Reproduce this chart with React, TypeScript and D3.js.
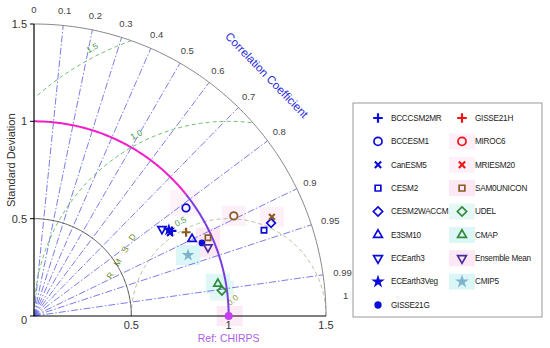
import React from 'react';
import * as d3 from 'd3';

// models, in legend order (first 9 = left column)
const models = [
  'BCCCSM2MR', 'BCCESM1', 'CanESM5', 'CESM2', 'CESM2WACCM', 'E3SM10', 'ECEarth3', 'ECEarth3Veg', 'GISSE21G',
  'GISSE21H', 'MIROC6', 'MRIESM20', 'SAM0UNICON', 'UDEL', 'CMAP', 'Ensemble Mean', 'CMIP5',
];
const stdDev = [0.833, 0.958, 0.818, 1.261, 1.308, 0.903, 0.795, 0.822, 0.941, 0.892, 1.148, 1.324, 0.98, 0.974, 0.959, 0.961, 0.851];
const corr = [0.851, 0.815, 0.854, 0.937, 0.931, 0.899, 0.827, 0.843, 0.917, 0.876, 0.894, 0.923, 0.912, 0.991, 0.985, 0.93, 0.93];

const refName = 'Ref: CHIRPS';
const refStd = 1;

const stdTicks = [0, 0.5, 1, 1.5];
const corrTicks = [0, 0.1, 0.2, 0.3, 0.4, 0.5, 0.6, 0.7, 0.8, 0.9, 0.95, 0.99, 1];
const rmsdLevels = [0.5, 1.0, 1.5];

const blue = '#0c0cd8';
const brown = '#8b5a22';
const red = '#ee1515';
const green = '#2f8a3a';

const styles: Record<string, any> = {
  BCCCSM2MR: { sym: 'plus', color: blue },
  BCCESM1: { sym: 'circle', color: blue },
  CanESM5: { sym: 'times', color: blue },
  CESM2: { sym: 'square', color: blue },
  CESM2WACCM: { sym: 'diamond', color: blue },
  E3SM10: { sym: 'tri', color: blue },
  ECEarth3: { sym: 'triDown', color: blue },
  ECEarth3Veg: { sym: 'star', color: blue },
  GISSE21G: { sym: 'dot', color: blue },
  GISSE21H: { sym: 'plus', color: brown, legend: red },
  MIROC6: { sym: 'circle', color: brown, legend: red, bg: '#fef0f9' },
  MRIESM20: { sym: 'times', color: brown, legend: red, bg: '#fef0f9' },
  SAM0UNICON: { sym: 'square', color: brown, bg: '#fce8f5' },
  UDEL: { sym: 'diamond', color: green, bg: '#e6f8f6' },
  CMAP: { sym: 'tri', color: green, bg: '#dcf7f5' },
  'Ensemble Mean': { sym: 'triDown', color: '#4a2e98', bg: '#fce8f5' },
  CMIP5: { sym: 'star', color: '#7db4cc', bg: '#daf6f6' },
};

const x = d3.scaleLinear().domain([0, 1.5]).range([34, 326]);
const y = d3.scaleLinear().domain([0, 1.5]).range([316, 24]);

const line = d3.line<[number, number]>().x(d => x(d[0])).y(d => y(d[1]));

function arcPts(cx: number, r: number, a0: number, a1: number, n = 120) {
  return d3.range(n + 1).map(i => {
    const a = a0 + (a1 - a0) * i / n;
    return [cx + r * Math.cos(a), r * Math.sin(a)] as [number, number];
  });
}

function Marker({ sym, color, size = 1 }: any) {
  const sw = 1.7;
  const s = (t: any, a: number) => d3.symbol(t, a * size)()!;
  if (sym === 'plus') return <path d={s(d3.symbolPlus, 28)} stroke={color} strokeWidth={2.2} fill="none" />;
  if (sym === 'times') return <path d={s(d3.symbolTimes, 24)} stroke={color} strokeWidth={2.1} fill="none" />;
  if (sym === 'circle') return <path d={s(d3.symbolCircle, 45)} stroke={color} strokeWidth={sw} fill="none" />;
  if (sym === 'square') return <path d={s(d3.symbolSquare2, 36)} stroke={color} strokeWidth={sw} fill="none" />;
  if (sym === 'diamond') return <path d={s(d3.symbolDiamond2, 48)} stroke={color} strokeWidth={sw} fill="none" />;
  if (sym === 'tri') return <path d={s(d3.symbolTriangle2, 48)} stroke={color} strokeWidth={sw} fill="none" />;
  if (sym === 'triDown') return <path transform="rotate(180)" d={s(d3.symbolTriangle2, 48)} stroke={color} strokeWidth={sw} fill="none" />;
  if (sym === 'star') return <path d={s(d3.symbolStar, 50)} fill={color} />;
  return <path d={s(d3.symbolCircle, 36)} fill={color} />;
}

export default function App() {
  const W = 550, H = 348;
  const font = 'Liberation Sans, Arial, sans-serif';
  const pts = models.map((m, i) => {
    const a = Math.acos(corr[i]);
    return { m, px: x(stdDev[i] * Math.cos(a)), py: y(stdDev[i] * Math.sin(a)) };
  });
  const rows = d3.scalePoint<number>().domain(d3.range(9)).range([118, 305]);
  const refAngle = Math.acos(0.78);

  return (
    <svg width={W} height={H} style={{ position: 'absolute', left: 0, top: 0, background: '#fff' }} fontFamily={font}>
      {/* highlight boxes */}
      {pts.map(p => styles[p.m].bg ? (
        <rect key={'bg' + p.m} x={p.px - 12} y={p.py - 10} width={24} height={20} fill={styles[p.m].bg} />
      ) : null)}
      <rect x={x(refStd) - 12} y={y(0) - 10} width={26} height={20} fill="#fdeaf7" />
      <rect x={170} y={190} width={28} height={26} fill="#fdf3f9" />

      {/* correlation rays */}
      {corrTicks.slice(1, -1).map(c => (
        <path key={'ray' + c} d={line([[0, 0], [1.5 * c, 1.5 * Math.sin(Math.acos(c))]])!}
          stroke="#5a5ae0" strokeWidth={0.8} strokeDasharray="7,2,1.5,2" fill="none" />
      ))}

      {/* RMSD circles */}
      {rmsdLevels.map(r => {
        const p = arcPts(refStd, r, 0, Math.PI, 240).filter(d => d[0] >= 0 && d[0] * d[0] + d[1] * d[1] <= 2.2501);
        return <path key={'rm' + r} d={line(p)!} stroke={r === 0.5 ? '#a8b890' : '#5cb860'} strokeWidth={0.9} strokeDasharray="4,3" fill="none" />;
      })}
      {rmsdLevels.map(r => {
        const a = 117 * Math.PI / 180;
        const px = x(refStd + (r + 0.03) * Math.cos(a)), py = y((r + 0.03) * Math.sin(a));
        return <text key={'rl' + r} x={px} y={py} fontSize={8.5} fill="#3f9a3f" textAnchor="middle"
          transform={`rotate(-27 ${px} ${py})`}>{r.toFixed(1)}</text>;
      })}
      <text x={x(1.03)} y={y(0.07)} fontSize={8.5} fill="#a89a40" textAnchor="middle"
        transform={`rotate(-40 ${x(1.03)} ${y(0.07)})`}>0.0</text>
      <text x={x(0.465)} y={y(0.306)} fontSize={8.5} fill="#6b8e23" textAnchor="middle" letterSpacing={3}
        transform={`rotate(-60 ${x(0.465)} ${y(0.306)})`}>R M S D</text>

      {/* std arcs */}
      <path d={line(arcPts(0, 0.5, 0, Math.PI / 2))!} stroke="#555" strokeWidth={1} fill="none" />
      <path d={line(arcPts(0, 1.5, 0, Math.PI / 2))!} stroke="#888" strokeWidth={1} fill="none" />
      <path d={line(arcPts(0, refStd, refAngle, Math.PI / 2))!} stroke="#f21fc8" strokeWidth={2} fill="none" />
      <path d={line(arcPts(0, refStd, 0, refAngle))!} stroke="#7a3fe0" strokeWidth={2} fill="none" />

      {/* axes */}
      <line x1={x(0)} x2={x(0)} y1={y(0)} y2={y(1.5)} stroke="#000" strokeWidth={1.2} />
      <line x1={x(0)} x2={x(1.5)} y1={y(0)} y2={y(0)} stroke="#000" strokeWidth={1.2} />
      {stdTicks.map(t => (
        <g key={'st' + t}>
          <line x1={x(0) - 4} x2={x(0)} y1={y(t)} y2={y(t)} stroke="#000" />
          <text x={x(0) - 7} y={y(t) + (t === 0 ? 4 : 0)} dy="0.35em" fontSize={11} fill="#333" textAnchor="end">{t}</text>
          {t > 0 && <text x={x(t)} y={y(0) + 13} fontSize={11} fill="#333" textAnchor="middle">{t}</text>}
        </g>
      ))}
      <text transform={`translate(11,${y(0.8)}) rotate(-90)`} fontSize={11} fill="#333" textAnchor="middle" dy="0.35em">Standard Deviation</text>
      <text x={x(refStd)} y={y(0) + 26} fontSize={10.5} fill="#b060e8" textAnchor="middle">{refName}</text>

      {/* correlation labels */}
      {corrTicks.map(c => {
        const a = Math.acos(c);
        const r = 1.575;
        return <text key={'cl' + c} x={x(r * Math.cos(a)) + (c > 0.9 ? 5 : 0)} y={y(r * Math.sin(a)) - (c === 1 ? 20 : 0)} dy="0.35em"
          fontSize={9.5} fill="#444" textAnchor="middle">{c}</text>;
      })}
      <text fontSize={11.5} fill="#2a2ad8" textAnchor="middle"
        transform={`translate(${x(1.7 * Math.cos(46 * Math.PI / 180))},${y(1.7 * Math.sin(46 * Math.PI / 180))}) rotate(46)`}>
        Correlation Coefficient
      </text>

      {/* reference point */}
      <circle cx={x(refStd)} cy={y(0)} r={4} fill="#c53ff0" />

      {/* model points */}
      {pts.map(p => (
        <g key={'pt' + p.m} transform={`translate(${p.px},${p.py})`}>
          <Marker sym={styles[p.m].sym} color={styles[p.m].color} />
        </g>
      ))}

      {/* legend */}
      <rect x={353} y={103} width={189} height={214} fill="#fff" stroke="#999" strokeWidth={1} />
      {models.map((m, i) => {
        const col = i < 9 ? 0 : 1;
        const row = i < 9 ? i : i - 9;
        const mx = col === 0 ? 378 : 462;
        const ty = rows(row)!;
        const st = styles[m];
        return (
          <g key={'lg' + m}>
            {st.bg && <rect x={mx - 13} y={ty - 8} width={26} height={16} fill={st.bg} />}
            <g transform={`translate(${mx},${ty})`}>
              <Marker sym={st.sym} color={st.legend || st.color} size={1.15} />
            </g>
            <text x={mx + 13} y={ty} dy="0.35em" fontSize={8.2} letterSpacing={-0.25} fill="#222">{m}</text>
          </g>
        );
      })}
    </svg>
  );
}
